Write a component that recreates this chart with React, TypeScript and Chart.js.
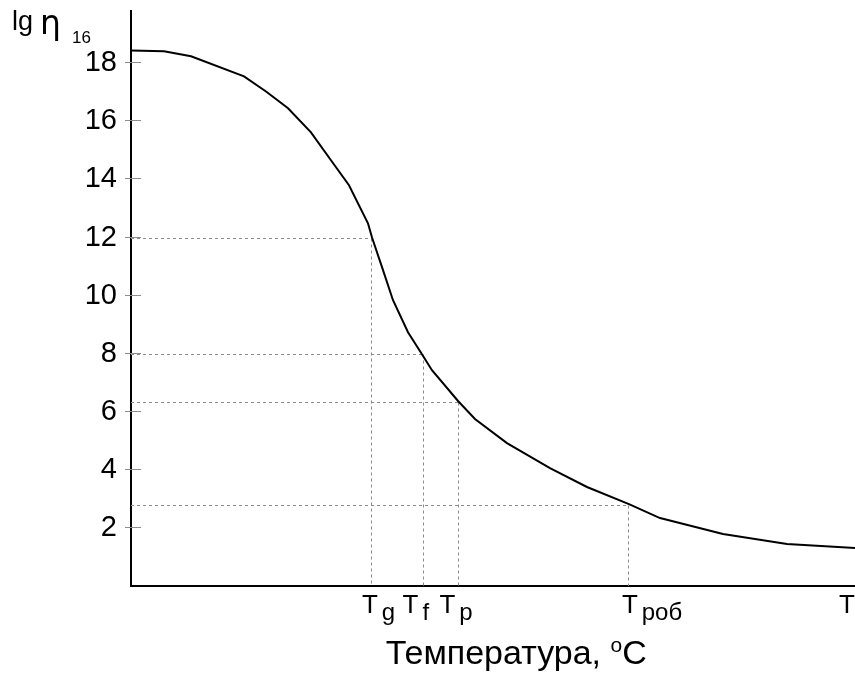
import { useEffect, useRef } from 'react';
import { Chart, registerables } from 'chart.js';

Chart.register(...registerables);

const FONT = "'Liberation Sans', Arial, sans-serif";

// Curve (x in relative temperature units 0..100, y = lg η)
const curveX = [0, 4.56, 8.29, 15.61, 18.65, 21.69, 24.86, 27.62, 30.11, 32.73, 33.29, 34.67, 36.19, 38.26, 40.19, 41.57, 45.17, 47.51, 51.93, 57.87, 62.98, 68.78, 73.07, 81.77, 90.61, 100];
const curveY = [18.44, 18.41, 18.24, 17.55, 17.03, 16.45, 15.62, 14.66, 13.8, 12.49, 12.0, 10.98, 9.84, 8.74, 7.98, 7.43, 6.37, 5.75, 4.92, 4.06, 3.41, 2.82, 2.34, 1.79, 1.45, 1.31];

// Characteristic temperatures
const markerSubs = ['g', 'f', 'p', 'роб'];
const markerX = [33.15, 40.3, 45.2, 68.7];
const markerY = [12, 8, 6.35, 2.8];
// where the "T" letters of the labels sit on the x axis
const labelTX = [33.0, 38.6, 43.7, 68.9];
const endLabelX = 98.9;

const yTicks = [2, 4, 6, 8, 10, 12, 14, 16, 18];
const xTitleMain = 'Температура, ';
const xTitleDeg = 'o';
const xTitleUnit = 'C';
const yTitleMain = 'lg';
const yTitleEta = 'η';
const yTitleSub = '16';

export default function App() {
  const ref = useRef<HTMLCanvasElement>(null);

  useEffect(() => {
    const canvas = ref.current;
    if (!canvas) return;

    const refLines = {
      id: 'refLines',
      beforeDatasetsDraw(chart: any) {
        const { ctx, scales: { x, y } } = chart;
        ctx.save();
        ctx.strokeStyle = '#8c8c8c';
        ctx.lineWidth = 1;
        ctx.setLineDash([3, 3]);
        markerX.forEach((mx, i) => {
          const px = Math.round(x.getPixelForValue(mx)) + 0.5;
          const py = Math.round(y.getPixelForValue(markerY[i])) + 0.5;
          ctx.beginPath();
          ctx.moveTo(x.left, py);
          ctx.lineTo(px, py);
          ctx.stroke();
          ctx.beginPath();
          ctx.moveTo(px, py);
          ctx.lineTo(px, y.bottom);
          ctx.stroke();
        });
        ctx.setLineDash([]);
        // y tick marks crossing the axis
        yTicks.forEach((v) => {
          const py = Math.round(y.getPixelForValue(v)) - 0.5;
          ctx.beginPath();
          ctx.moveTo(x.left - 6, py);
          ctx.lineTo(x.left + 10, py);
          ctx.stroke();
        });
        ctx.restore();
      },
    };

    const labels = {
      id: 'labels',
      afterDraw(chart: any) {
        const { ctx, scales: { x, y } } = chart;
        ctx.save();
        ctx.fillStyle = '#000';
        ctx.textBaseline = 'alphabetic';
        const base = y.bottom + 27;
        const drawT = (cx: number, sub: string) => {
          ctx.font = `26px ${FONT}`;
          ctx.textAlign = 'center';
          ctx.fillText('T', cx, base);
          const tw = ctx.measureText('T').width;
          if (sub) {
            ctx.font = `24px ${FONT}`;
            ctx.textAlign = 'left';
            ctx.fillText(sub, cx + tw / 2 + 4, base + 7);
          }
        };
        labelTX.forEach((lx, i) => drawT(x.getPixelForValue(lx), markerSubs[i]));
        drawT(x.getPixelForValue(endLabelX), '');

        // x title
        ctx.font = `34px ${FONT}`;
        const w1 = ctx.measureText(xTitleMain).width;
        ctx.font = `21px ${FONT}`;
        const w2 = ctx.measureText(xTitleDeg).width;
        ctx.font = `34px ${FONT}`;
        const w3 = ctx.measureText(xTitleUnit).width;
        const total = w1 + w2 + w3;
        const cx = x.left + (x.right - x.left) * 0.532;
        let sx = cx - total / 2;
        const tb = y.bottom + 78;
        ctx.textAlign = 'left';
        ctx.fillText(xTitleMain, sx, tb);
        sx += w1;
        ctx.font = `21px ${FONT}`;
        ctx.fillText(xTitleDeg, sx, tb - 12);
        sx += w2;
        ctx.font = `34px ${FONT}`;
        ctx.fillText(xTitleUnit, sx, tb);

        // y title
        ctx.font = `27px ${FONT}`;
        ctx.fillText(yTitleMain, 12, 30);
        ctx.font = `33px 'DejaVu Sans', ${FONT}`;
        ctx.fillText(yTitleEta, 40, 34);
        ctx.font = `17px ${FONT}`;
        ctx.fillText(yTitleSub, 72, 43);
        ctx.restore();
      },
    };

    const chart = new Chart(canvas, {
      type: 'line',
      data: {
        datasets: [
          {
            data: curveX.map((v, i) => ({ x: v, y: curveY[i] })),
            borderColor: '#000',
            borderWidth: 2,
            pointRadius: 0,
            tension: 0,
            fill: false,
          },
        ],
      },
      options: {
        responsive: false,
        animation: false,
        layout: { autoPadding: false, padding: { top: 11, right: 0, left: 0, bottom: 0 } },
        plugins: { legend: { display: false }, tooltip: { enabled: false } },
        scales: {
          x: {
            type: 'linear',
            min: 0,
            max: 100,
            ticks: { display: false },
            grid: { display: false },
            border: { display: true, color: '#000', width: 2 },
            afterFit(s: any) {
              s.height = 98;
              s.paddingLeft = 0;
              s.paddingRight = 0;
            },
          },
          y: {
            type: 'linear',
            min: 0,
            max: 19.8,
            afterBuildTicks(s: any) {
              s.ticks = yTicks.map((v) => ({ value: v }));
            },
            ticks: {
              color: '#000',
              padding: 6,
              font: { family: FONT, size: 29 },
              callback: (v: any) => String(v),
            },
            grid: { display: false },
            border: { display: true, color: '#000', width: 2 },
            afterFit(s: any) {
              s.width = 131;
              s.paddingTop = 0;
              s.paddingBottom = 0;
            },
          },
        },
      },
      plugins: [refLines, labels],
    });

    return () => chart.destroy();
  }, []);

  return (
    <div style={{ position: 'fixed', left: 0, top: 0, width: 855, height: 684, background: '#fff' }}>
      <canvas ref={ref} width={855} height={684} style={{ display: 'block' }} />
    </div>
  );
}
